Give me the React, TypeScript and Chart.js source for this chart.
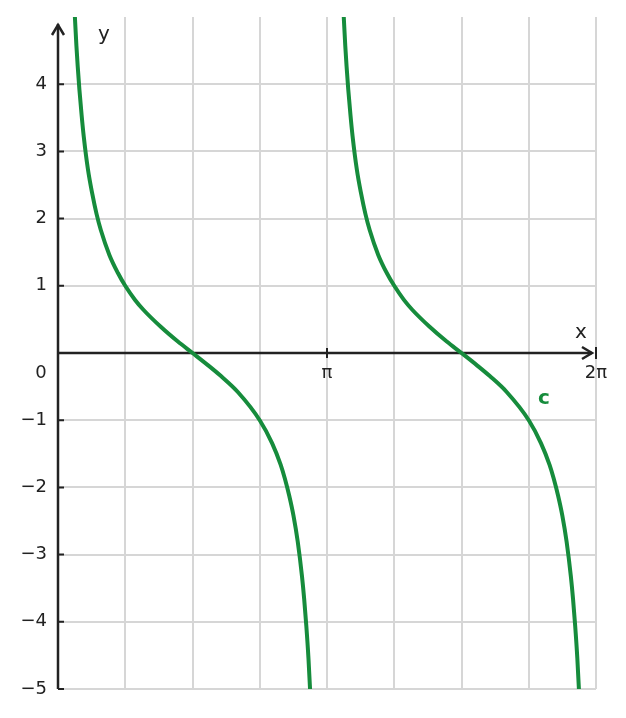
import { useEffect, useRef } from 'react';
import { Chart, registerables } from 'chart.js';

Chart.register(...registerables);

const PI = Math.PI;

// first branch of the curve, x in radians
const branch1X = [0.19, 0.2, 0.215, 0.23, 0.25, 0.275, 0.3, 0.35, 0.4, 0.45, 0.5, 0.6, 0.7, 0.785, 0.9, 1.0, 1.2, 1.4, 1.571, 1.75, 1.9, 2.1, 2.356, 2.5, 2.6, 2.65, 2.7, 2.75, 2.8, 2.85, 2.875, 2.9, 2.925, 2.95, 2.96];
const branch1Y = [5.2, 4.93, 4.57, 4.27, 3.92, 3.55, 3.23, 2.73, 2.37, 2.07, 1.83, 1.46, 1.19, 1.0, 0.79, 0.64, 0.39, 0.17, 0, -0.18, -0.34, -0.58, -1.0, -1.34, -1.66, -1.87, -2.12, -2.42, -2.81, -3.33, -3.66, -4.06, -4.54, -5.16, -5.43];

// second branch
const branch2X = [3.33, 3.34, 3.355, 3.37, 3.39, 3.415, 3.44, 3.49, 3.54, 3.59, 3.64, 3.74, 3.84, 3.927, 4.04, 4.14, 4.34, 4.54, 4.712, 4.89, 5.04, 5.24, 5.498, 5.64, 5.74, 5.79, 5.84, 5.89, 5.94, 5.99, 6.015, 6.04, 6.065, 6.09, 6.1];
const branch2Y = [5.2, 4.93, 4.57, 4.27, 3.92, 3.55, 3.23, 2.73, 2.37, 2.07, 1.83, 1.46, 1.19, 1.0, 0.79, 0.64, 0.39, 0.17, 0, -0.18, -0.34, -0.58, -1.0, -1.34, -1.66, -1.87, -2.12, -2.42, -2.81, -3.33, -3.66, -4.06, -4.54, -5.16, -5.43];

const xGridSteps = [0, 1, 2, 3, 4, 5, 6, 7, 8]; // multiples of pi/4
const yTicks = [-5, -4, -3, -2, -1, 0, 1, 2, 3, 4, 5];
const xAxisLabels = [
  { value: PI, text: 'π' },
  { value: 2 * PI, text: '2π' },
];
const curveLabel = 'c';

const GREEN = '#168c3c';
const INK = '#222222';
const GRID = '#d6d6d6';
const FONT = '"DejaVu Sans", sans-serif';

const axesPlugin = {
  id: 'mathAxes',
  beforeDatasetsDraw(chart: any) {
    const { ctx, scales } = chart;
    const xs = scales.x;
    const ys = scales.y;
    const x0 = xs.getPixelForValue(0);
    const y0 = ys.getPixelForValue(0);
    const xEnd = xs.getPixelForValue(2 * PI);
    const yTop = ys.getPixelForValue(5);
    const yBot = ys.getPixelForValue(-5);

    ctx.save();
    ctx.strokeStyle = INK;
    ctx.lineWidth = 2.5;
    ctx.lineCap = 'butt';

    // y axis
    ctx.beginPath();
    ctx.moveTo(x0, yBot);
    ctx.lineTo(x0, yTop + 7);
    ctx.stroke();
    ctx.beginPath();
    ctx.moveTo(x0 - 6, yTop + 18);
    ctx.lineTo(x0, yTop + 8);
    ctx.lineTo(x0 + 6, yTop + 18);
    ctx.stroke();

    // x axis
    ctx.beginPath();
    ctx.moveTo(x0, y0);
    ctx.lineTo(xEnd - 4, y0);
    ctx.stroke();
    ctx.beginPath();
    ctx.moveTo(xEnd - 14, y0 - 6);
    ctx.lineTo(xEnd - 4, y0);
    ctx.lineTo(xEnd - 14, y0 + 6);
    ctx.stroke();

    // x ticks
    ctx.lineWidth = 2;
    ctx.beginPath();
    ctx.moveTo(xs.getPixelForValue(PI), y0 - 5);
    ctx.lineTo(xs.getPixelForValue(PI), y0 + 5);
    ctx.moveTo(xEnd, y0 - 6);
    ctx.lineTo(xEnd, y0 + 6);
    ctx.stroke();

    // y ticks
    ctx.beginPath();
    yTicks.forEach((v) => {
      if (v === 0 || v === 5) return;
      const py = ys.getPixelForValue(v);
      ctx.moveTo(x0, py);
      ctx.lineTo(x0 + 6, py);
    });
    ctx.stroke();

    // texts
    ctx.fillStyle = INK;
    ctx.textAlign = 'center';
    ctx.textBaseline = 'middle';
    ctx.font = `18px ${FONT}`;
    xAxisLabels.forEach((l) => {
      ctx.fillText(l.text, xs.getPixelForValue(l.value), y0 + 20);
    });
    ctx.fillText('0', x0 - 17, y0 + 20);
    ctx.font = `20px ${FONT}`;
    ctx.fillText('y', 104, 35);
    ctx.fillText('x', xEnd - 15, y0 - 20);
    ctx.restore();
  },
  afterDatasetsDraw(chart: any) {
    const { ctx } = chart;
    ctx.save();
    ctx.fillStyle = GREEN;
    ctx.font = `bold 20px ${FONT}`;
    ctx.textAlign = 'center';
    ctx.textBaseline = 'middle';
    ctx.fillText(curveLabel, 544, 399);
    ctx.restore();
  },
};

export default function App() {
  const canvasRef = useRef<HTMLCanvasElement>(null);
  const chartRef = useRef<Chart | null>(null);

  useEffect(() => {
    document.body.style.margin = '0';
    if (!canvasRef.current) return;
    if (chartRef.current) chartRef.current.destroy();
    const ctx = canvasRef.current.getContext('2d');
    if (!ctx) return;

    const lineStyle = {
      borderColor: GREEN,
      borderWidth: 4,
      pointRadius: 0,
      fill: false,
      cubicInterpolationMode: 'monotone' as const,
    };

    chartRef.current = new Chart(ctx, {
      type: 'line',
      data: {
        datasets: [
          { ...lineStyle, label: curveLabel, data: branch1X.map((x, i) => ({ x, y: branch1Y[i] })) },
          { ...lineStyle, label: curveLabel, data: branch2X.map((x, i) => ({ x, y: branch2Y[i] })) },
        ],
      },
      options: {
        animation: false,
        responsive: false,
        devicePixelRatio: 1,
        layout: { padding: { top: 17, right: 30, left: 0, bottom: 0 } },
        plugins: { legend: { display: false }, tooltip: { enabled: false } },
        scales: {
          x: {
            type: 'linear',
            min: 0,
            max: 2 * PI,
            afterBuildTicks: (axis: any) => {
              axis.ticks = xGridSteps.map((i) => ({ value: (i * PI) / 4 }));
            },
            afterFit: (axis: any) => {
              axis.height = 29;
              axis.paddingLeft = 0;
              axis.paddingRight = 0;
            },
            ticks: { display: false },
            border: { display: false },
            grid: {
              drawTicks: false,
              lineWidth: 2,
              color: (c: any) => (c.tick && c.tick.value === 0 ? 'rgba(0,0,0,0)' : GRID),
            },
          },
          y: {
            type: 'linear',
            min: -5,
            max: 5,
            afterBuildTicks: (axis: any) => {
              axis.ticks = yTicks.map((v) => ({ value: v }));
            },
            afterFit: (axis: any) => {
              axis.width = 58;
              axis.paddingTop = 0;
              axis.paddingBottom = 0;
            },
            border: { display: false },
            grid: {
              drawTicks: false,
              lineWidth: 2,
              color: (c: any) => (c.tick && (c.tick.value === 5 || c.tick.value === 0) ? 'rgba(0,0,0,0)' : GRID),
            },
            ticks: {
              padding: 11,
              color: INK,
              font: { family: FONT, size: 18 },
              callback: (v: any) => (v === 0 || v === 5 ? '' : String(v).replace('-', '−')),
            },
          },
        },
      },
      plugins: [axesPlugin],
    });

    return () => {
      if (chartRef.current) {
        chartRef.current.destroy();
        chartRef.current = null;
      }
    };
  }, []);

  return (
    <div style={{ width: '626px', height: '718px' }}>
      <canvas ref={canvasRef} width={626} height={718} />
    </div>
  );
}
